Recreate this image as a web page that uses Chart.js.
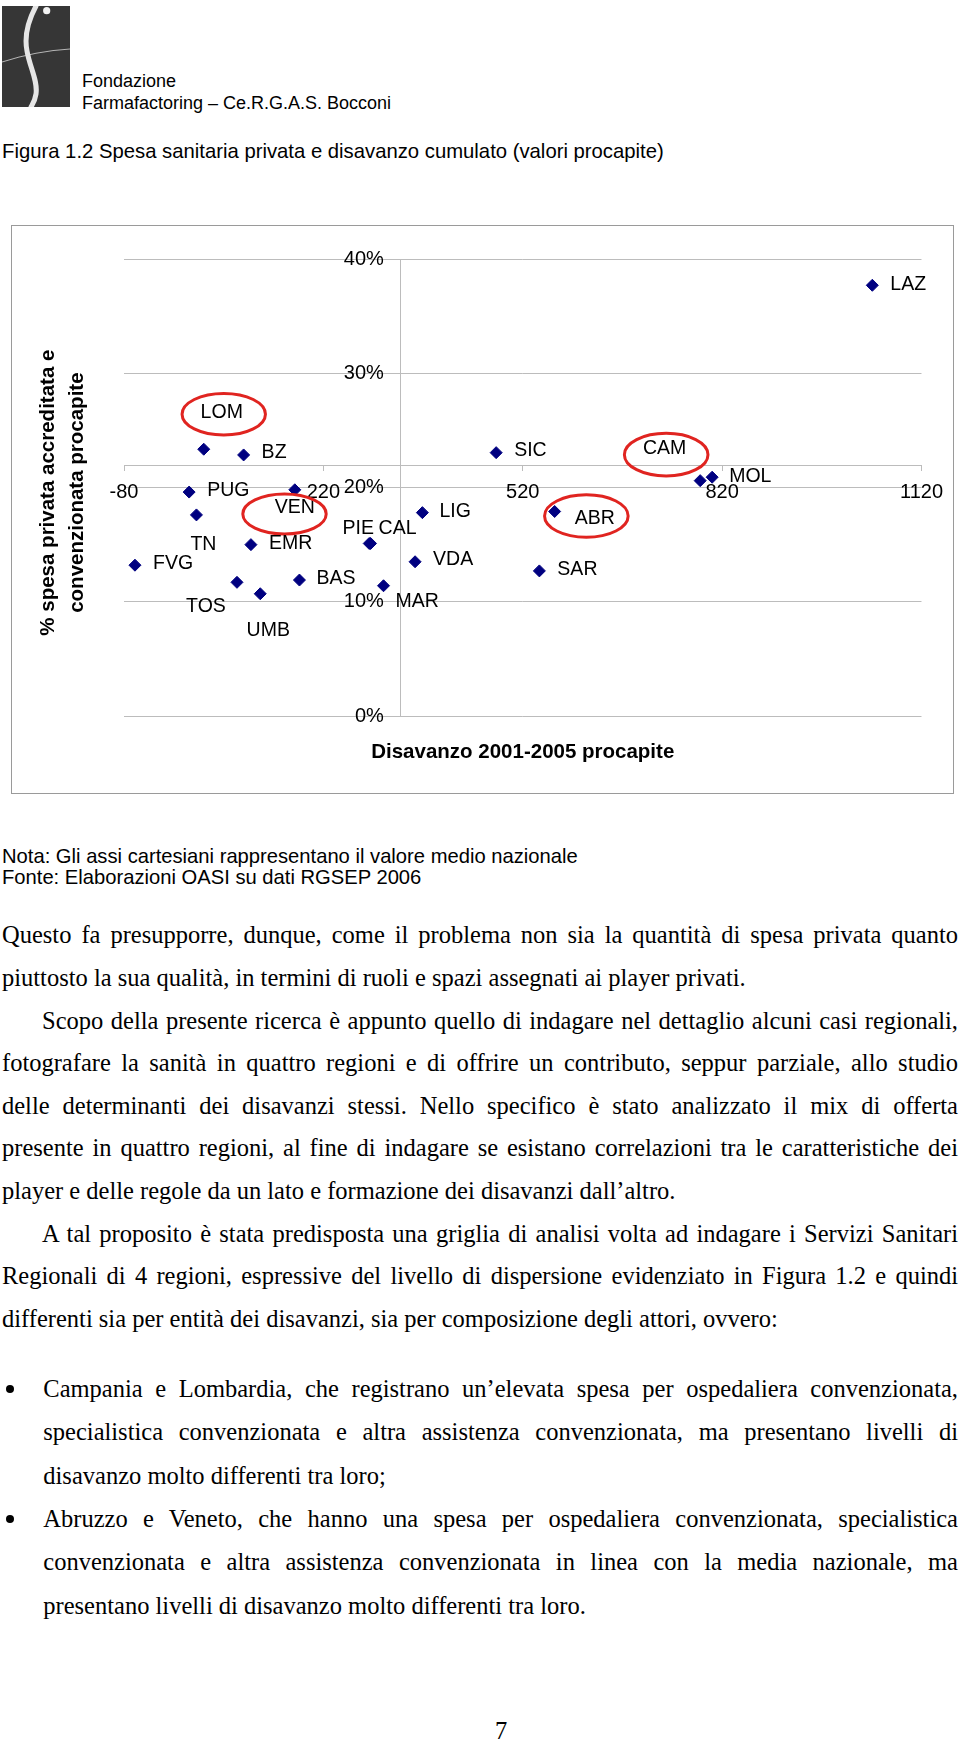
<!DOCTYPE html>
<html lang="it">
<head>
<meta charset="utf-8">
<title>Figura 1.2</title>
<script src="https://cdn.jsdelivr.net/npm/chart.js@4.4.1/dist/chart.umd.min.js"></script>
<style>
  html, body { margin: 0; padding: 0; background: #fff; }
  body { width: 960px; height: 1742px; position: relative; overflow: hidden;
         font-family: "Liberation Sans", Arial, sans-serif; color: #000; }
  .abs { position: absolute; white-space: nowrap; }
  .s18 { font-size: 18px; line-height: 22px; }
  .s20 { font-size: 20.2px; line-height: 24px; }
  #chartWrap { position: absolute; left: 12px; top: 226px; width: 941px; height: 567px; }
  #chartFrame { position: absolute; left: 11px; top: 225px; width: 941px; height: 567px;
                border: 1.5px solid #9a9a9a; pointer-events: none; }
  .txt { position: absolute; left: 2px; width: 956px;
         font-family: "Liberation Serif", "Times New Roman", serif; font-size: 24.5px; }
  .txt div { height: 42.6px; line-height: 42.6px; white-space: nowrap;
             text-align: justify; text-align-last: justify; }
  .txt div.last { text-align-last: left; }
  .txt div.ind { padding-left: 40px; }
  .bul div { height: 43.3px; line-height: 43.3px; }
  .dot { position: absolute; width: 8px; height: 8px; border-radius: 50%; background: #000; }
</style>
</head>
<body>

<svg class="abs" style="left:2px;top:6px" width="68" height="101" viewBox="0 0 68 101">
  <rect width="68" height="101" fill="#363636"/>
  <path d="M0 56 Q 34 45 68 43" stroke="#b5b5b5" stroke-width="1" fill="none"/>
  <path d="M34 0 C 26 15, 22 30, 25 45 C 28 62, 36 75, 34 88 C 33 95, 30 99, 29 101"
        stroke="#e6e6e6" stroke-width="5" fill="none" stroke-linecap="round"/>
  <circle cx="44.7" cy="4.7" r="3.6" fill="#f2f2f2"/>
</svg>
<div class="abs s18" style="left:82px;top:69.7px">Fondazione</div>
<div class="abs s18" style="left:82px;top:91.5px">Farmafactoring – Ce.R.G.A.S. Bocconi</div>

<div class="abs s20" style="left:2px;top:138.7px;font-size:20.3px">Figura 1.2 Spesa sanitaria privata e disavanzo cumulato (valori procapite)</div>

<div id="chartWrap"><canvas id="chart"></canvas></div>
<div id="chartFrame"></div>

<div class="abs s20" style="left:2px;top:843.5px">Nota: Gli assi cartesiani rappresentano il valore medio nazionale</div>
<div class="abs s20" style="left:2px;top:864.7px">Fonte: Elaborazioni OASI su dati RGSEP 2006</div>

<div class="txt" style="top:914.4px">
  <div>Questo fa presupporre, dunque, come il problema non sia la quantità di spesa privata quanto</div>
  <div class="last">piuttosto la sua qualità, in termini di ruoli e spazi assegnati ai player privati.</div>
  <div class="ind">Scopo della presente ricerca è appunto quello di indagare nel dettaglio alcuni casi regionali,</div>
  <div>fotografare la sanità in quattro regioni e di offrire un contributo, seppur parziale, allo studio</div>
  <div>delle determinanti dei disavanzi stessi. Nello specifico è stato analizzato il mix di offerta</div>
  <div>presente in quattro regioni, al fine di indagare se esistano correlazioni tra le caratteristiche dei</div>
  <div class="last">player e delle regole da un lato e formazione dei disavanzi dall’altro.</div>
  <div class="ind">A tal proposito è stata predisposta una griglia di analisi volta ad indagare i Servizi Sanitari</div>
  <div>Regionali di 4 regioni, espressive del livello di dispersione evidenziato in Figura 1.2 e quindi</div>
  <div class="last">differenti sia per entità dei disavanzi, sia per composizione degli attori, ovvero:</div>
</div>

<div class="dot" style="left:6px;top:1384.9px"></div>
<div class="dot" style="left:6px;top:1514.9px"></div>
<div class="txt bul" style="left:43.3px;width:914.7px;top:1367.2px">
  <div>Campania e Lombardia, che registrano un’elevata spesa per ospedaliera convenzionata,</div>
  <div>specialistica convenzionata e altra assistenza convenzionata, ma presentano livelli di</div>
  <div class="last">disavanzo molto differenti tra loro;</div>
  <div>Abruzzo e Veneto, che hanno una spesa per ospedaliera convenzionata, specialistica</div>
  <div>convenzionata e altra assistenza convenzionata in linea con la media nazionale, ma</div>
  <div class="last">presentano livelli di disavanzo molto differenti tra loro.</div>
</div>

<div class="abs" style="left:486px;width:30px;text-align:center;top:1710px;font-family:'Liberation Serif',serif;font-size:24.5px;line-height:42.6px">7</div>

<script>
// regioni (etichette), disavanzo 2001-2005 procapite (x), % spesa privata accreditata (y)
const regions = ['LOM', 'BZ', 'PUG', 'VEN', 'TN', 'EMR', 'FVG', 'TOS', 'UMB', 'BAS', 'PIE',
  'CAL', 'LIG', 'VDA', 'MAR', 'SIC', 'ABR', 'SAR', 'CAM', 'MOL', 'LAZ'];
const disavanzo = [40, 100, 18, 177, 29, 111, -63.5, 90, 125, 184, 289,
  291, 369, 358, 310.5, 480, 568, 545, 787, 805, 1046];
const spesaPrivata = [23.35, 22.85, 19.6, 19.8, 17.6, 15.0, 13.2, 11.7, 10.7, 11.9, 15.1,
  15.1, 17.8, 13.5, 11.4, 23.05, 17.9, 12.7, 20.6, 20.9, 37.7];

const xTicks = [-80, 220, 520, 820, 1120];
const yTicks = [0, 10, 20, 30, 40];
// valori medi nazionali: qui si incrociano gli assi
const mediaDisavanzo = 336;
const mediaSpesa = 21.9;

// where each label sits relative to its point: [dx, dy, align]
const labelPos = {
  LOM: [18, -37, 'center'], BZ: [18, -2, 'left'], PUG: [18, -1, 'left'],
  VEN: [0, 18, 'center'], TN: [7, 30, 'center'], EMR: [18, -1, 'left'],
  FVG: [18, -2, 'left'], TOS: [-31, 24, 'center'], UMB: [8, 37, 'center'],
  BAS: [17, -1, 'left'], PIE: [-11, -15, 'center'], CAL: [27, -15, 'center'],
  LIG: [17, -1, 'left'], VDA: [18, -2, 'left'], MAR: [12, 16, 'left'],
  SIC: [18, -2, 'left'], ABR: [20, 7, 'left'], SAR: [18, -1, 'left'],
  CAM: [-35.5, -32, 'center'], MOL: [17, -1, 'left'], LAZ: [18, -1, 'left']
};
// red rings: [dx, dy, rx, ry] from the point
const rings = {
  LOM: [20, -35, 41.7, 20.8],
  VEN: [-10.3, 24.3, 41.7, 20],
  CAM: [-34, -26, 41.8, 21.3],
  ABR: [31.7, 4.5, 41.8, 21.2]
};

const pointLabels = {
  id: 'pointLabels',
  afterDatasetsDraw(chart) {
    const ctx = chart.ctx;
    const meta = chart.getDatasetMeta(0);
    ctx.save();
    ctx.font = '19.5px "Liberation Sans", Arial, sans-serif';
    ctx.fillStyle = '#000';
    ctx.textBaseline = 'middle';
    meta.data.forEach((pt, i) => {
      const name = regions[i];
      const [dx, dy, align] = labelPos[name];
      ctx.textAlign = align;
      ctx.fillText(name, pt.x + dx, pt.y + dy);
      const r = rings[name];
      if (r) {
        ctx.beginPath();
        ctx.ellipse(pt.x + r[0], pt.y + r[1], r[2], r[3], 0, 0, Math.PI * 2);
        ctx.strokeStyle = '#e02420';
        ctx.lineWidth = 3;
        ctx.stroke();
      }
    });
    ctx.restore();
  }
};

Chart.defaults.font.family = '"Liberation Sans", Arial, sans-serif';
Chart.defaults.font.size = 20;
Chart.defaults.color = '#000';

const gridGrey = '#bcbcbc';
const boldTitle = { family: '"Liberation Sans", Arial, sans-serif', size: 20.5, weight: 'bold' };

new Chart(document.getElementById('chart'), {
  type: 'scatter',
  data: {
    datasets: [{
      label: 'Regioni',
      data: regions.map((r, i) => ({ x: disavanzo[i], y: spesaPrivata[i] })),
      pointStyle: 'rectRot',
      pointRadius: 6,
      backgroundColor: '#000080',
      borderColor: '#000080',
      borderWidth: 1
    }]
  },
  options: {
    responsive: true,
    maintainAspectRatio: false,
    animation: false,
    layout: { padding: { left: 0, right: 27, top: 33, bottom: 0 } },
    plugins: { legend: { display: false }, tooltip: { enabled: false } },
    scales: {
      x: {
        type: 'linear',
        position: { y: mediaSpesa },
        min: xTicks[0],
        max: xTicks[xTicks.length - 1],
        ticks: { stepSize: xTicks[1] - xTicks[0], padding: 10, maxRotation: 0,
                 callback: v => String(v) },
        grid: { drawOnChartArea: false, drawTicks: true, tickLength: 5, color: gridGrey },
        border: { color: gridGrey, width: 1 },
        afterFit: s => { s.height = 0; }
      },
      y: {
        type: 'linear',
        position: { x: mediaDisavanzo },
        min: yTicks[0],
        max: yTicks[yTicks.length - 1],
        ticks: { stepSize: yTicks[1] - yTicks[0], callback: v => v + '%   ' },
        grid: { color: gridGrey, drawTicks: false },
        border: { color: gridGrey, width: 1 },
        afterFit: s => { s.width = 0; }
      },
      yTitle: {
        type: 'linear', axis: 'y', position: 'left', min: 0, max: 1,
        ticks: { display: false }, grid: { display: false }, border: { display: false },
        title: { display: true,
                 text: ['% spesa privata accreditata e\u2002', 'convenzionata procapite\u2002'],
                 font: Object.assign({ lineHeight: 1.44 }, boldTitle), color: '#000',
                 padding: { top: 21.5, bottom: 0 } },
        afterFit: s => { s.width = 112; }
      },
      xTitle: {
        type: 'linear', axis: 'x', position: 'bottom', min: 0, max: 1,
        ticks: { display: false }, grid: { display: false }, border: { display: false },
        title: { display: true, text: 'Disavanzo 2001-2005 procapite',
                 font: Object.assign({ lineHeight: 1.2 }, boldTitle), color: '#000',
                 padding: { top: 0, bottom: 28.5 } },
        afterFit: s => { s.height = 77; }
      }
    }
  },
  plugins: [pointLabels]
});
</script>
</body>
</html>
